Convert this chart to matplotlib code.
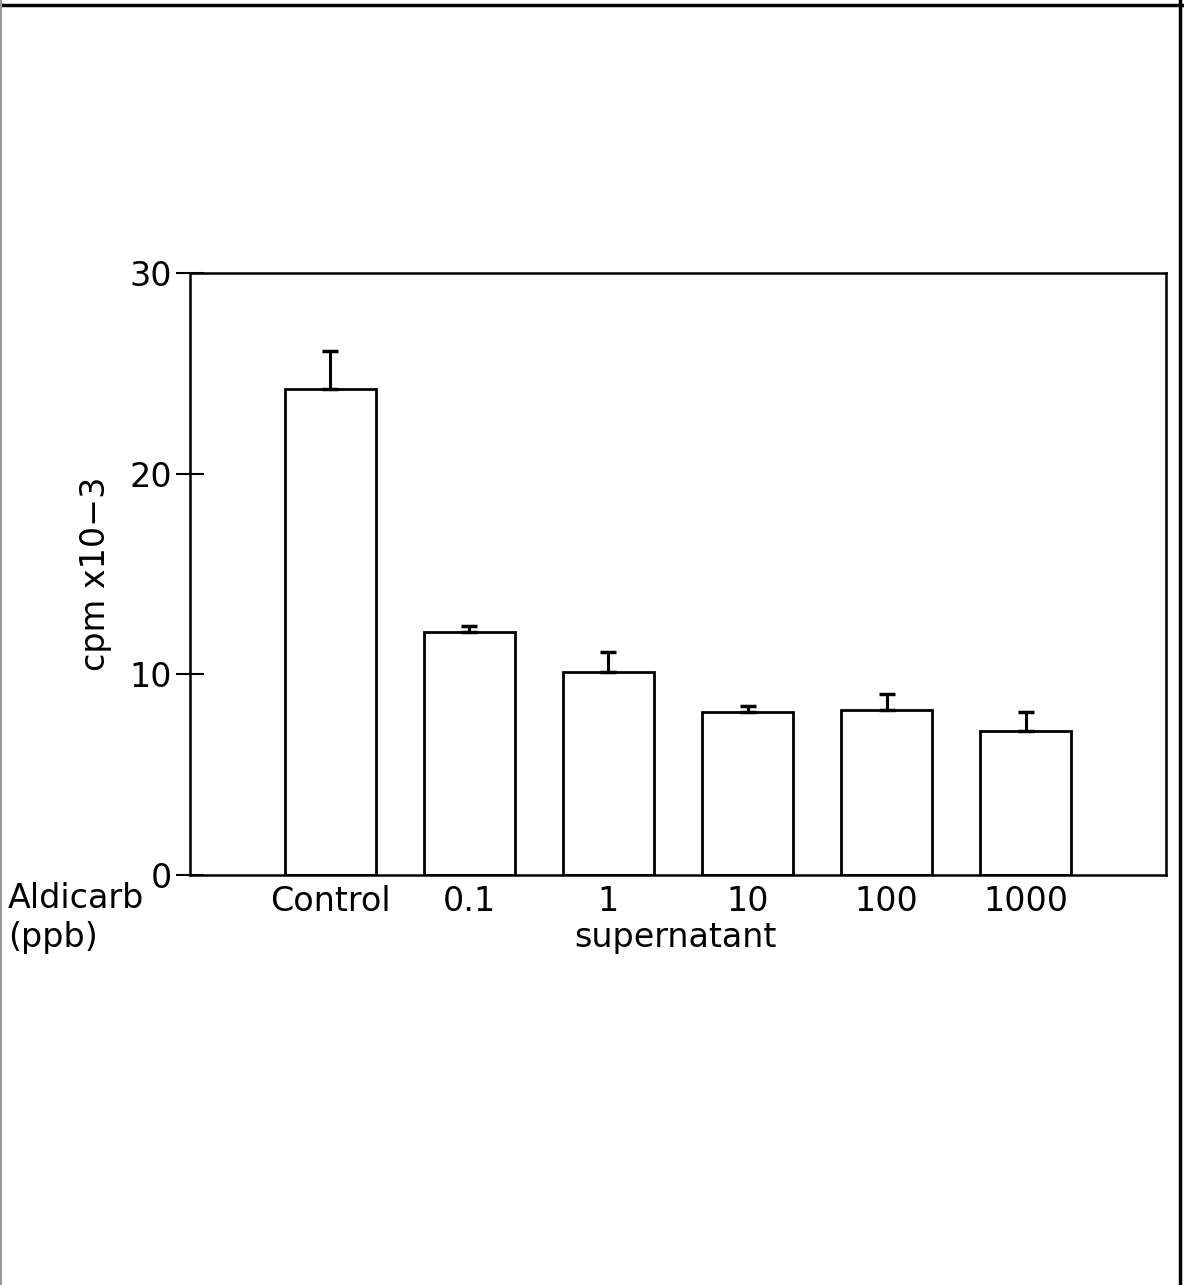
import matplotlib
matplotlib.use("Agg")
import matplotlib.pyplot as plt
from matplotlib.lines import Line2D

categories = ["Control", "0.1", "1", "10", "100", "1000"]
values = [24.2, 12.1, 10.1, 8.1, 8.2, 7.2]
errors = [1.9, 0.3, 1.0, 0.3, 0.8, 0.9]
yticks = [0, 10, 20, 30]

plt.rcParams['font.family'] = ['DejaVu Sans']

FS = 24
fig = plt.figure(figsize=(11.84, 12.85), dpi=100)
ax = fig.add_axes([190/1184, 1 - 875/1285, (1166-190)/1184, (875-273)/1285])

pos = list(range(1, len(categories) + 1))
ax.bar(pos, values, width=0.66, facecolor='white', edgecolor='black', linewidth=2, zorder=2)
ax.errorbar(pos, values, yerr=[[0]*len(errors), errors], fmt='none', ecolor='black',
            elinewidth=2.2, capsize=6, capthick=2.5, zorder=3)

ax.set_xlim(-0.01, 7.01)
ax.set_ylim(0, 30)
ax.set_yticks(yticks)
ax.set_yticklabels([str(t) for t in yticks], fontsize=FS)
ax.tick_params(axis='y', direction='inout', length=20, width=1.5, pad=3)
ax.set_xticks(pos)
ax.set_xticklabels(categories, fontsize=FS)
ax.tick_params(axis='x', length=0, pad=7)
for s in ax.spines.values():
    s.set_linewidth(1.8)

ax.set_ylabel("cpm x10\u22123", fontsize=FS)
ax.yaxis.set_label_coords(-0.08, 0.5)

fig.text(675/1184, 1 - 937/1285, "supernatant", fontsize=FS, ha='center', va='center')
fig.text(8/1184, 1 - 899/1285, "Aldicarb", fontsize=FS, ha='left', va='center')
fig.text(8/1184, 1 - 937/1285, "(ppb)", fontsize=FS, ha='left', va='center')

# page frame
fig.add_artist(Line2D([0, 1], [1 - 5/1285, 1 - 5/1285], transform=fig.transFigure, color='black', lw=2.5))
fig.add_artist(Line2D([1180/1184, 1180/1184], [0, 1], transform=fig.transFigure, color='black', lw=2.5))
fig.add_artist(Line2D([1/1184, 1/1184], [0, 1], transform=fig.transFigure, color='#999999', lw=1.5))

fig.savefig("out.png", dpi=100)
